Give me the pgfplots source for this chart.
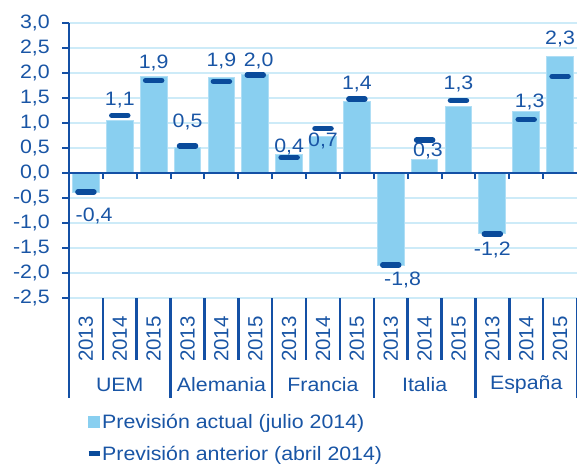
\documentclass[border=0pt]{standalone}
\usepackage{fontspec}
\setmainfont{Liberation Sans}[FakeStretch=1.1]
\newfontfamily\yearfamily{Liberation Sans}
\usepackage{pgfplots}
\pgfplotsset{compat=1.18}
\definecolor{barblue}{RGB}{137,207,240}
\definecolor{baredge}{RGB}{175,222,245}
\definecolor{markblue}{RGB}{10,75,155}
\definecolor{textblue}{RGB}{25,85,165}
\definecolor{axisblue}{RGB}{20,80,165}
\definecolor{gridblue}{RGB}{205,235,248}
\newcommand{\chartfont}{\fontsize{19.4}{22}\selectfont}
\newcommand{\yearfont}{\yearfamily\fontsize{20.5}{23}\selectfont}
\begin{document}
\begin{tikzpicture}
\begin{axis}[
  name=ax,
  scale only axis, width=508pt, height=275pt,
  xmin=-0.5, xmax=14.5, ymin=-2.5, ymax=3,
  clip=false,
  axis line style={draw=none},
  ytick={-2.5,-2,-1.5,-1,-0.5,0,0.5,1,1.5,2,2.5,3},
  ytick pos=left, tick align=outside, major tick length=7pt,
  ytick style={draw=axisblue, line width=2pt},
  xtick={0,1,2,3,4,5,6,7,8,9,10,11,12,13,14},
  xticklabels={2013,2014,2015,2013,2014,2015,2013,2014,2015,2013,2014,2015,2013,2014,2015},
  xtick style={draw=none},
  xticklabel style={rotate=90, anchor=east, inner sep=0pt, font=\yearfont},
  xticklabel shift=11pt,
  yticklabel style={inner sep=0pt, anchor=east, font=\chartfont},
  yticklabel shift=12pt,
  ticklabel style={text=textblue},
  y tick label style={/pgf/number format/.cd, fixed, fixed zerofill, precision=1, use comma, assume math mode=true},
  ymajorgrids, grid style={draw=gridblue, line width=1.5pt},
  legend style={at={(0.0335,-0.422)}, anchor=north west, draw=none, fill=none,
    inner sep=0pt, font=\chartfont, text=textblue, row sep=16pt,
    nodes={inner sep=0pt},
    /tikz/every even column/.append style={column sep=5pt}},
  legend cell align=left,
]
\addplot[ybar, bar width=26.7pt, fill=barblue, draw=baredge, line width=1pt,
  legend image code/.code={\fill[barblue] (0pt,-5.5pt) rectangle (11pt,5.5pt);}]
coordinates {
(0,-0.38) (1,1.05) (2,1.93) (3,0.52) (4,1.91) (5,1.97) (6,0.37) (7,0.73)
(8,1.43) (9,-1.85) (10,0.28) (11,1.33) (12,-1.21) (13,1.24) (14,2.33)
};
\addlegendentry{Previsión actual (julio 2014)}
\addplot[only marks, mark=-, mark size=8pt,
  mark options={draw=markblue, line width=5.5pt, line cap=round},
  legend image code/.code={\draw[markblue, line width=5pt] (0pt,0pt) -- (11pt,0pt);}]
coordinates {
(0,-0.38) (1,1.15) (2,1.85) (3,0.54) (4,1.83) (5,1.96) (6,0.31) (7,0.89)
(8,1.48) (9,-1.84) (10,0.66) (11,1.45) (12,-1.22) (13,1.07) (14,1.93)
};
\addlegendentry{Previsión anterior (abril 2014)}
\addplot[draw=none, forget plot, nodes near coords, point meta=explicit symbolic,
  nodes near coords style={anchor=center, inner sep=0pt, font=\chartfont, text=textblue}]
table[meta=lab] {
x y lab
0.24 -0.86 -0,4
1 1.46 1,1
2 2.20 1,9
3 1.03 0,5
4 2.24 1,9
5.1 2.24 2,0
6 0.53 0,4
7 0.65 0,7
8 1.77 1,4
9.35 -2.14 -1,8
10.1 0.44 0,3
11 1.79 1,3
12 -1.54 -1,2
13.1 1.43 1,3
14 2.69 2,3
};
% zero line and its ticks
\draw[axisblue, line width=2.5pt] (axis cs:-0.5,0) -- (axis cs:14.5,0);
\pgfplotsinvokeforeach{0.5,1.5,2.5,3.5,4.5,5.5,6.5,7.5,8.5,9.5,10.5,11.5,12.5,13.5}{
  \draw[axisblue, line width=2pt] (axis cs:#1,0) -- ++(0pt,-6pt);
}
% left spine
\draw[axisblue, line width=2.5pt] (axis cs:-0.5,3) -- (axis cs:-0.5,-4.5);
% year separators
\pgfplotsinvokeforeach{0.5,1.5,3.5,4.5,6.5,7.5,9.5,10.5,12.5,13.5}{
  \draw[axisblue, line width=2.5pt] (axis cs:#1,-2.5) -- (axis cs:#1,-3.74);
}
% group separators
\pgfplotsinvokeforeach{2.5,5.5,8.5,11.5,14.5}{
  \draw[axisblue, line width=2.5pt] (axis cs:#1,-2.5) -- (axis cs:#1,-4.5);
}
% group names
\node[font=\chartfont, text=textblue, inner sep=0pt] at (axis cs:1,-4.24) {UEM};
\node[font=\chartfont, text=textblue, inner sep=0pt] at (axis cs:4,-4.24) {Alemania};
\node[font=\chartfont, text=textblue, inner sep=0pt] at (axis cs:7,-4.24) {Francia};
\node[font=\chartfont, text=textblue, inner sep=0pt] at (axis cs:10,-4.24) {Italia};
\node[font=\chartfont, text=textblue, inner sep=0pt] at (axis cs:13,-4.24) {España};
\end{axis}
\pgfresetboundingbox
\path ([shift={(-69pt,-166pt)}]ax.south west) rectangle ([shift={(0pt,23pt)}]ax.north east);
\end{tikzpicture}
\end{document}
